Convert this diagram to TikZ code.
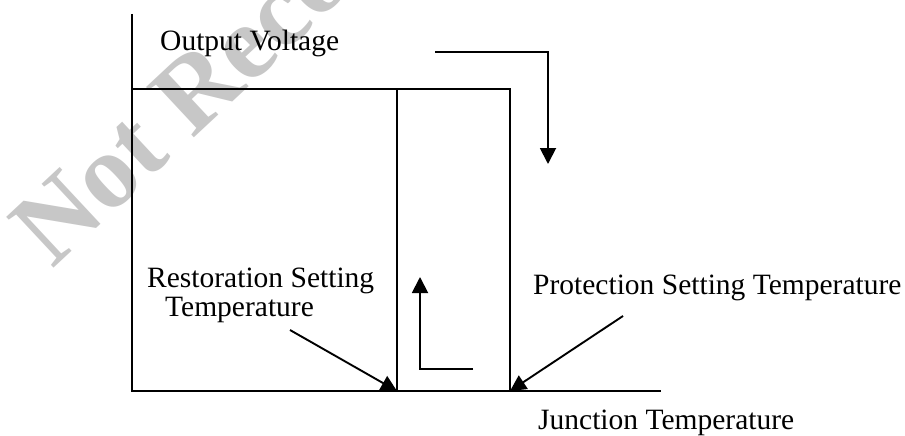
\documentclass[tikz,border=0pt]{standalone}
\usepackage{fontspec}
\setmainfont{Liberation Serif}
\usetikzlibrary{arrows.meta}
\begin{document}
\begin{tikzpicture}[x=1pt,y=-1pt,
  axisline/.style={line width=1.9pt,black},
  arr/.style={line width=1.9pt,black,-{Triangle[length=16pt,width=16pt]}},
  lbl/.style={inner sep=0pt,anchor=base west,font=\fontsize{29.5}{34}\selectfont},
  wmark/.style={inner sep=0pt,anchor=base west,text=black!22,rotate=43,font=\bfseries\fontsize{106}{120}\selectfont}]
\useasboundingbox (0,0) rectangle (905,436);
\fill[white] (0,0) rectangle (905,436);
% watermark
\node[wmark] (wm) at (52,270) {Not Recommended};
% coordinates
\coordinate (o) at (132,391);
\coordinate (ytop) at (132,14);
\coordinate (xend) at (661,391);
\coordinate (tl) at (132,89);
\coordinate (t1) at (397,89);
\coordinate (t2) at (510,89);
\coordinate (b1) at (397,391);
\coordinate (b2) at (510,391);
\coordinate (dstart) at (435,52);
\coordinate (dend) at (548,164);
\coordinate (ustart) at (473,369);
\coordinate (uend) at (420,277);
\coordinate (rstart) at (290,330);
\coordinate (pstart) at (623,316);
% axes and lines
\draw[axisline] (ytop) -- (o) -- (xend);
\draw[axisline] (tl) -- (t2) -- (b2);
\draw[axisline] (t1) -- (b1);
% arrows
\draw[arr] (dstart) -| (dend);
\draw[arr] (ustart) -| (uend);
\draw[arr] (rstart) -- (b1);
\draw[arr] (pstart) -- (b2);
% labels
\node[lbl] (ov) at (160,51) {Output Voltage};
\node[lbl] (rs1) at (147,287) {Restoration Setting};
\node[lbl] (rs2) at (165,316) {Temperature};
\node[lbl] (ps) at (533,294) {Protection Setting Temperature};
\node[lbl] (jt) at (538,429) {Junction Temperature};
\end{tikzpicture}
\end{document}
